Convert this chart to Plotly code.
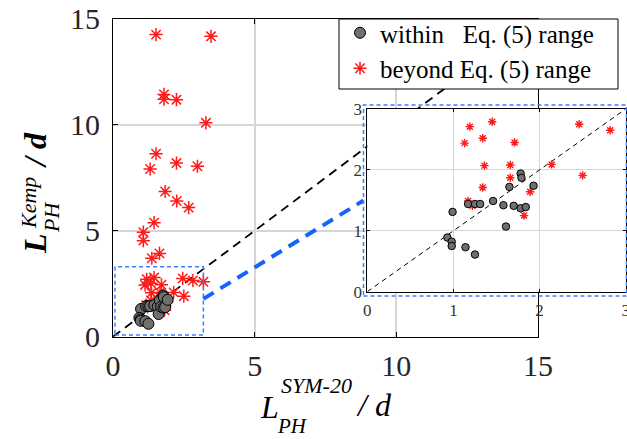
import plotly.graph_objects as go

# ---------------- data ----------------
# points whose parameters fall inside the Eq. (5) calibration range
within_x = [0.99, 0.93, 0.98, 0.98, 1.14, 1.25, 1.17, 1.25, 1.31, 1.46,
            1.58, 1.61, 1.65, 1.70, 1.78, 1.79, 1.78, 1.84, 1.93]
within_y = [1.31, 0.89, 0.82, 0.75, 0.73, 0.61, 1.44, 1.44, 1.44, 1.49,
            1.42, 1.07, 1.72, 1.41, 1.94, 1.87, 1.37, 1.39, 1.74]

# points outside that range
beyond_x = [1.19, 1.45, 1.34, 1.13, 1.71, 1.36, 1.66, 1.66, 1.34, 1.17,
            1.22, 1.89, 1.82, 2.14, 2.46, 2.82, 2.50, 3.19,
            1.37, 1.64, 1.07, 1.07, 1.45, 2.67, 2.25, 1.84, 2.98, 2.24,
            1.31, 1.52, 3.28, 2.24, 1.80, 1.80, 1.52, 3.46]
beyond_y = [2.71, 2.79, 2.52, 2.44, 2.45, 2.07, 2.08, 1.87, 1.71, 1.49,
            1.41, 1.64, 1.25, 2.09, 2.75, 2.65, 1.91, 2.59,
            3.70, 3.93, 4.53, 4.93, 5.38, 6.09, 6.40, 6.85, 8.04, 8.19,
            7.91, 8.63, 10.09, 11.18, 11.20, 11.43, 14.25, 14.17]

main_ticks = [0, 5, 10, 15]
inset_ticks = [0, 1, 2, 3]
zoom_box = [0.07, 3.19, 0.08, 3.30]          # x0, x1, y0, y1 in data units
legend_names = ["within\u00a0\u00a0\u00a0Eq. (5) range", "beyond Eq. (5) range"]

# ---------------- geometry (pixels) ----------------
W, H = 627, 439
MAIN = dict(x0=113, x1=538, y0=18.7, y1=336.7)      # left, right, top, bottom
INSET = dict(x0=367.3, x1=625.7, y0=109, y1=291.7)
FRAME = dict(x0=363.5, x1=626.5, y0=105, y1=296)
LEGBOX = dict(x0=339, x1=618, y0=19, y1=89)

FONT = "Liberation Serif"
RED = "#ff1a1a"
GREY = "#6f6f6f"


def px(x):
    return x / W


def py(y):
    return 1 - y / H


def data_to_px(xv, yv):
    sx = (MAIN["x1"] - MAIN["x0"]) / (main_ticks[-1] - main_ticks[0])
    sy = (MAIN["y1"] - MAIN["y0"]) / (main_ticks[-1] - main_ticks[0])
    return MAIN["x0"] + xv * sx, MAIN["y1"] - yv * sy


fig = go.Figure()

# ---- main axes ----
fig.add_trace(go.Scatter(x=[main_ticks[0], main_ticks[-1]], y=[main_ticks[0], main_ticks[-1]],
                         mode="lines", line=dict(color="black", width=1.8, dash="9px,6px"),
                         showlegend=False, hoverinfo="skip", xaxis="x", yaxis="y"))
fig.add_trace(go.Scatter(x=beyond_x, y=beyond_y, mode="markers", name=legend_names[1],
                         legendrank=2,
                         marker=dict(symbol="asterisk-open", size=11, color=RED,
                                     line=dict(color=RED, width=1.5)),
                         xaxis="x", yaxis="y"))
fig.add_trace(go.Scatter(x=within_x, y=within_y, mode="markers", name=legend_names[0],
                         legendrank=1,
                         marker=dict(symbol="circle", size=11, color=GREY,
                                     line=dict(color="black", width=1)),
                         xaxis="x", yaxis="y"))

# ---- inset axes ----
fig.add_trace(go.Scatter(x=[inset_ticks[0], inset_ticks[-1]], y=[inset_ticks[0], inset_ticks[-1]],
                         mode="lines", line=dict(color="black", width=1, dash="5px,4px"),
                         showlegend=False, hoverinfo="skip", xaxis="x2", yaxis="y2"))
fig.add_trace(go.Scatter(x=beyond_x, y=beyond_y, mode="markers", showlegend=False,
                         marker=dict(symbol="asterisk-open", size=7, color=RED,
                                     line=dict(color=RED, width=1.4)),
                         xaxis="x2", yaxis="y2"))
fig.add_trace(go.Scatter(x=within_x, y=within_y, mode="markers", showlegend=False,
                         marker=dict(symbol="circle", size=7.5, color=GREY,
                                     line=dict(color="black", width=1)),
                         xaxis="x2", yaxis="y2"))

axis_common = dict(showline=True, linecolor="black", linewidth=1, mirror="ticks",
                   ticks="inside", tickcolor="black", showgrid=True, zeroline=False,
                   automargin=False, fixedrange=True, ticklabeloverflow="allow")

main_axis = dict(axis_common, range=[main_ticks[0], main_ticks[-1]], tickvals=main_ticks,
                 ticklen=5, gridcolor="#d6d6d6", gridwidth=1.5,
                 tickfont=dict(family=FONT, size=30, color="#262626"))
inset_axis = dict(axis_common, range=[inset_ticks[0], inset_ticks[-1]], tickvals=inset_ticks,
                  ticklen=3, gridcolor="#d6d6d6", gridwidth=1.2,
                  tickfont=dict(family=FONT, size=17, color="#333333"))

fig.update_layout(
    width=W, height=H,
    margin=dict(l=0, r=0, t=0, b=0),
    template="none",
    paper_bgcolor="white", plot_bgcolor="white",
    xaxis=dict(main_axis, domain=[px(MAIN["x0"]), px(MAIN["x1"])], anchor="y",
               ticklabelstandoff=2),
    yaxis=dict(main_axis, domain=[py(MAIN["y1"]), py(MAIN["y0"])], anchor="x",
               ticklabelstandoff=6),
    xaxis2=dict(inset_axis, domain=[px(INSET["x0"]), px(INSET["x1"])], anchor="y2",
                ticklabelstandoff=3),
    yaxis2=dict(inset_axis, domain=[py(INSET["y1"]), py(INSET["y0"])], anchor="x2",
                ticklabelstandoff=1),
    showlegend=True,
    legend=dict(x=px(LEGBOX["x0"] + 1), y=py(LEGBOX["y0"] - 9), xanchor="left", yanchor="top",
                bgcolor="rgba(0,0,0,0)", borderwidth=0,
                font=dict(family=FONT, size=25, color="black"),
                tracegroupgap=0),
)

# ---- shapes: zoom box, connector, inset frame, legend box ----
zx0, zx1, zy0, zy1 = zoom_box
cx0, cy0 = data_to_px(zx1, (zy0 + zy1) / 2)
shapes = [
    dict(type="rect", xref="x", yref="y", x0=zx0, x1=zx1, y0=zy0, y1=zy1,
         line=dict(color="#3d7dff", width=1.5, dash="4px,3px"), layer="above"),
    dict(type="line", xref="paper", yref="paper",
         x0=px(cx0), y0=py(cy0 - 2),
         x1=px(FRAME["x0"]), y1=py((FRAME["y0"] + FRAME["y1"]) / 2),
         line=dict(color="#1463ff", width=4, dash="12px,8px"), layer="above"),
    dict(type="rect", xref="paper", yref="paper",
         x0=px(FRAME["x0"]), x1=px(FRAME["x1"]), y0=py(FRAME["y1"]), y1=py(FRAME["y0"]),
         line=dict(color="#3d7dff", width=1.5, dash="4px,3px"), layer="above"),
    dict(type="rect", xref="paper", yref="paper",
         x0=px(LEGBOX["x0"]), x1=px(LEGBOX["x1"]), y0=py(LEGBOX["y1"]), y1=py(LEGBOX["y0"]),
         line=dict(color="black", width=1), fillcolor="white", layer="above"),
]
fig.update_layout(shapes=shapes)

# ---- axis titles built from pieces (stacked super/subscripts) ----
def piece(text, x, y, size, angle=0, bold=False):
    t = f"<i>{text}</i>"
    if bold:
        t = f"<b>{t}</b>"
    return dict(text=t, x=px(x), y=py(y), xref="paper", yref="paper",
                xanchor="center", yanchor="middle", showarrow=False, textangle=angle,
                font=dict(family=FONT, size=size, color="black"))

annotations = [
    # x title: L_PH^SYM-20 / d
    piece("L", 269, 407, 32),
    piece("SYM-20", 316, 385, 22),
    piece("PH", 292, 426, 21),
    piece("/ d", 374, 405, 32),
    # y title: L_PH^Kemp / d
    piece("L", 35, 244, 32, -90, True),
    piece("Kemp", 28, 203, 22, -90),
    piece("PH", 51, 217, 22, -90),
    piece("/ d", 35, 150, 32, -90, True),
]
fig.update_layout(annotations=annotations)

fig.write_html("out.html")
